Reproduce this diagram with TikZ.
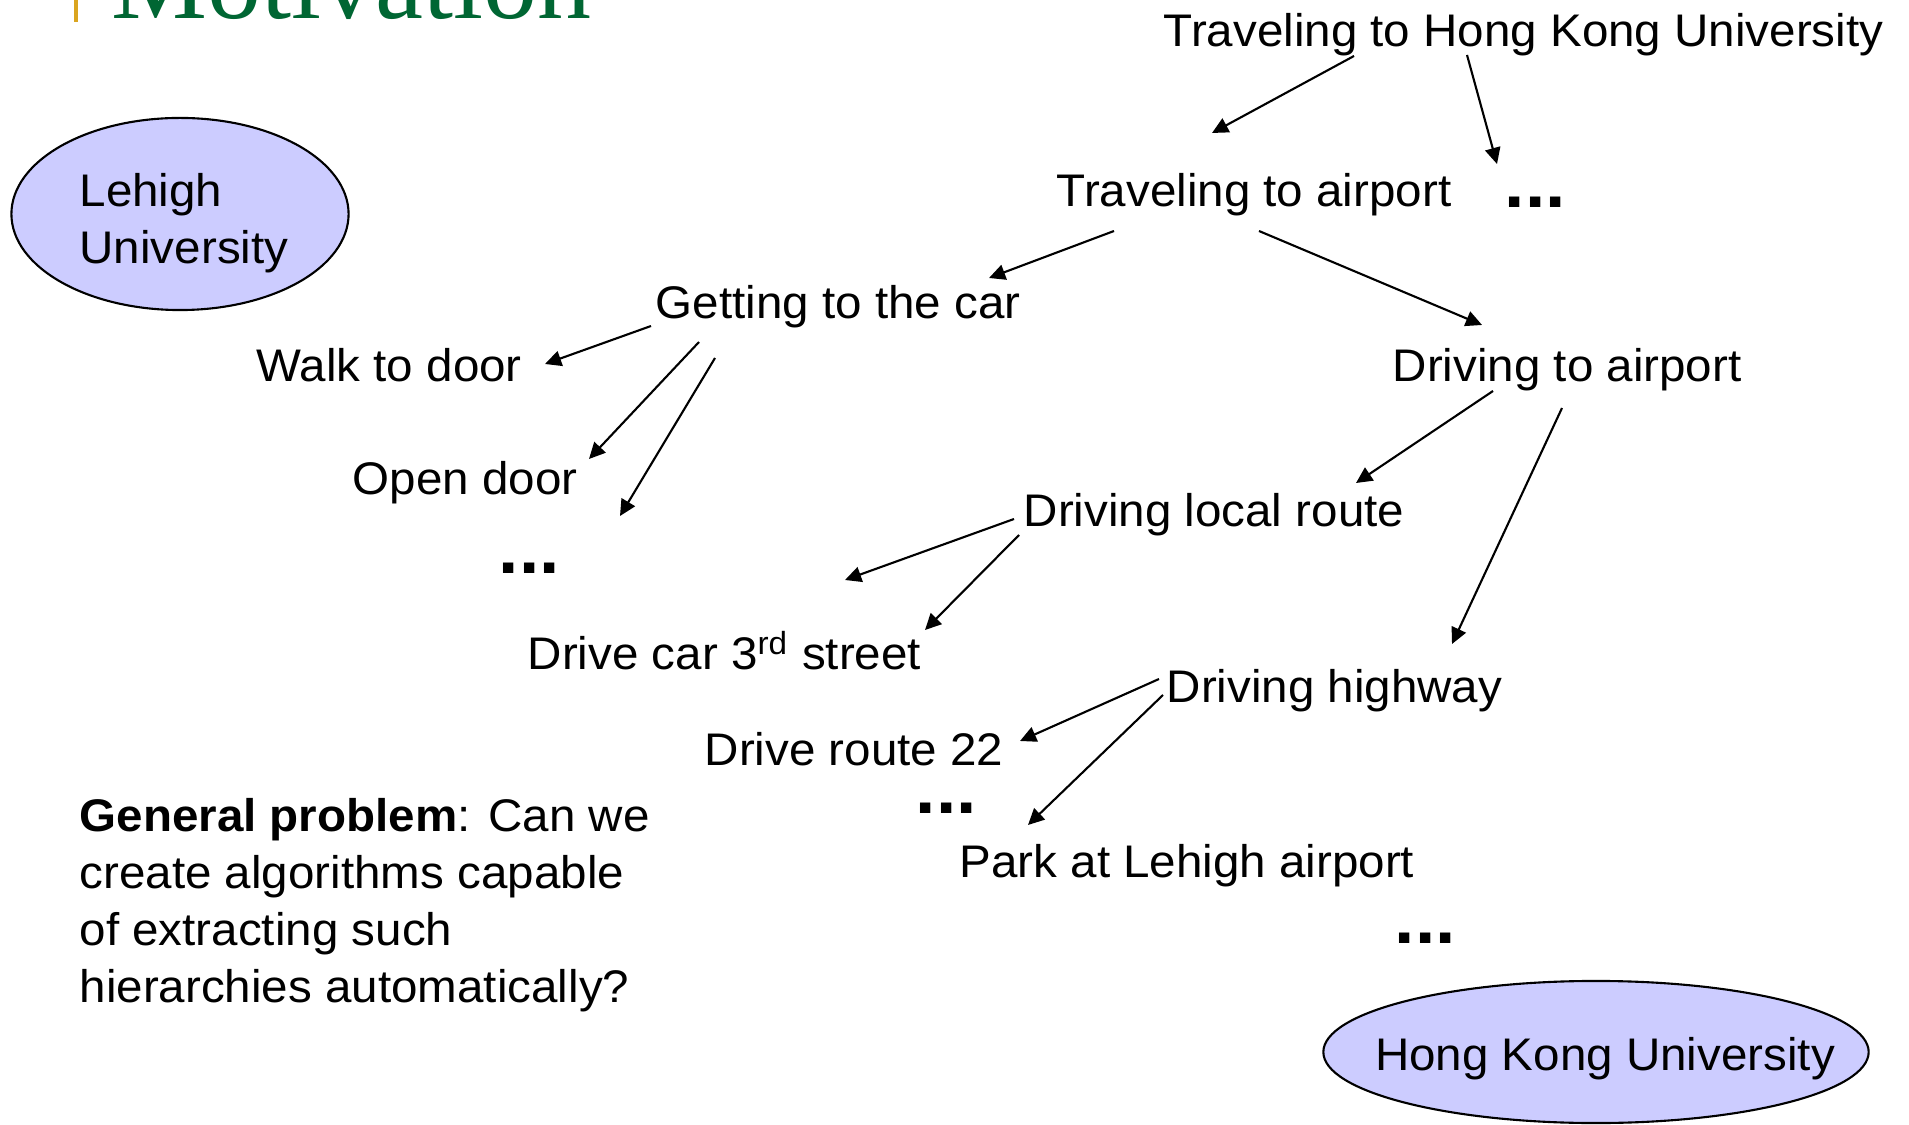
\documentclass[tikz,border=0pt]{standalone}
\usepackage{fontspec}
\setmainfont[FakeStretch=1.04]{Liberation Sans}
\newfontfamily\titlefont{Liberation Serif}
\usetikzlibrary{shapes.geometric, arrows.meta}

\definecolor{campus}{RGB}{204,204,255}
\definecolor{titlegreen}{RGB}{0,102,51}
\definecolor{accentgold}{RGB}{218,165,32}

\begin{document}
\begin{tikzpicture}[x=0.01cm, y=-0.01cm,
  task/.style={anchor=base west, inner sep=0pt, font=\fontsize{13}{16.2}\selectfont},
  more/.style={anchor=base west, inner sep=0pt, font=\fontsize{20}{24}\selectfont\bfseries},
  place/.style={ellipse, draw, fill=campus, line width=0.6pt, inner sep=0pt},
  link/.style={line width=0.6pt, -{Triangle[length=4.6pt,width=4.4pt]}}]

\path[use as bounding box, fill=white] (0,0) rectangle (1909,1125);

% slide title, cut off at the top
\fill[accentgold] (74,0) rectangle (78,22);
\node[anchor=base west, inner sep=0pt, text=titlegreen,
  font=\titlefont\fontsize{30.7}{36}\selectfont] (title) at (111,19) {Motivation};

\node[place, minimum width=3.37cm, minimum height=1.92cm,
  label={[task, anchor=center, align=left, xshift=0.04cm, yshift=-0.09cm]center:Lehigh\\University}] (lehigh) at (180,214) {};
\node[place, minimum width=5.45cm, minimum height=1.42cm,
  label={[task, anchor=center, xshift=0.09cm, yshift=-0.07cm]center:Hong Kong University}] (hku) at (1596,1052) {};

\node[task] (thku) at (1163,47) {Traveling to Hong Kong University};
\node[task] (tta) at (1056,207) {Traveling to airport};
\node[more] (dotsA) at (1504,208) {...};
\node[task] (gttc) at (655,319) {Getting to the car};
\node[task] (wtd) at (256,382) {Walk to door};
\node[task] (dta) at (1392,382) {Driving to airport};
\node[task] (od) at (352,495) {Open door};
\node[more] (dotsB) at (498,574) {...};
\node[task] (dlr) at (1023,527) {Driving local route};
\node[task] (dc3) at (527,670) {Drive car 3\textsuperscript{rd} street};
\node[task] (dh) at (1166,703) {Driving highway};
\node[task] (dr22) at (704,765) {Drive route 22};
\node[more] (dotsC) at (915,814) {...};
\node[task] (pala) at (959,877) {Park at Lehigh airport};
\node[more] (dotsD) at (1394,943) {...};

\node[task, anchor=north west, align=left] (gp) at (79,798)
  {\textbf{General problem}: Can we\\create algorithms capable\\of extracting such\\hierarchies automatically?};

\path[link]
([shift={(191,9)}]thku.base west) edge ([shift={(156,-74)}]tta.base west)
([shift={(304,8)}]thku.base west) edge ([shift={(-7,-44)}]dotsA.base west)
([shift={(58,24)}]tta.base west) edge ([shift={(334,-41)}]gttc.base west)
([shift={(203,24)}]tta.base west) edge ([shift={(90,-57)}]dta.base west)
([shift={(-4,7)}]gttc.base west) edge ([shift={(289,-18)}]wtd.base west)
([shift={(44,23)}]gttc.base west) edge ([shift={(237,-36)}]od.base west)
([shift={(60,39)}]gttc.base west) edge ([shift={(122,-58)}]dotsB.base west)
([shift={(101,9)}]dta.base west) edge ([shift={(333,-44)}]dlr.base west)
([shift={(170,26)}]dta.base west) edge ([shift={(286,-59)}]dh.base west)
([shift={(-9,-8)}]dlr.base west) edge ([shift={(318,-90)}]dc3.base west)
([shift={(-4,8)}]dlr.base west) edge ([shift={(398,-40)}]dc3.base west)
([shift={(-7,-24)}]dh.base west) edge ([shift={(316,-24)}]dr22.base west)
([shift={(-3,-8)}]dh.base west) edge ([shift={(69,-52)}]pala.base west)
;

\end{tikzpicture}
\end{document}
